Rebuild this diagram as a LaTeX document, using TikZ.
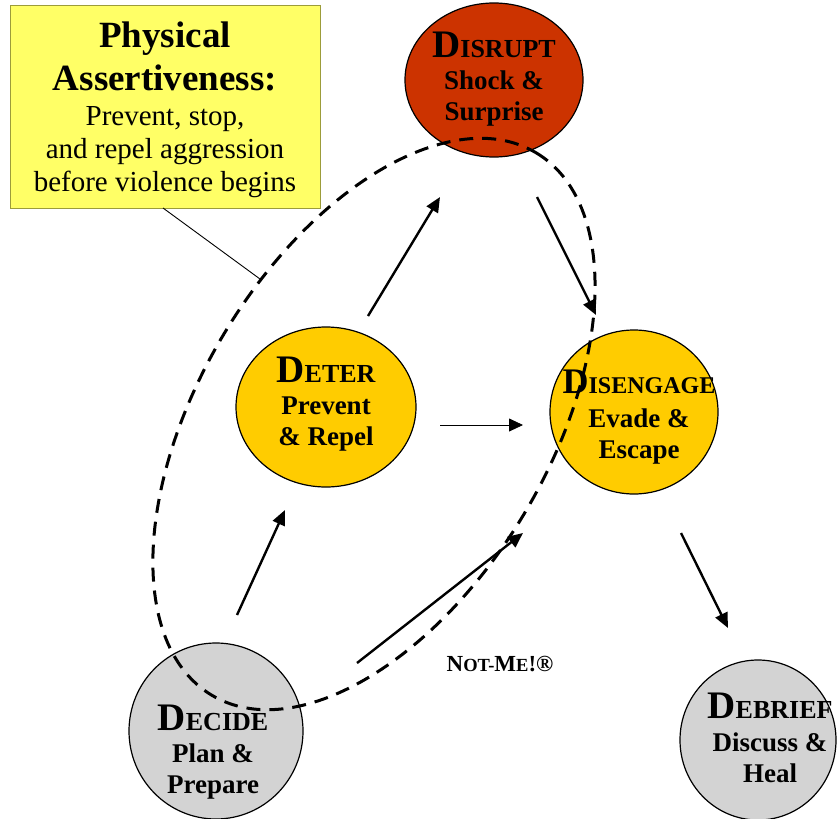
\documentclass[tikz,border=0pt]{standalone}
\usepackage{fontspec}
\setmainfont{Liberation Serif}
\usetikzlibrary{arrows.meta,shapes.geometric}
\definecolor{boxyellow}{HTML}{FFFF66}
\definecolor{boxedge}{HTML}{9C9C3A}
\definecolor{disruptred}{HTML}{CC3300}
\definecolor{goldfill}{HTML}{FFCC00}
\definecolor{grayfill}{HTML}{D3D3D3}
\newcommand{\capword}[2]{{\fontsize{39}{39}\selectfont #1}{\fontsize{26}{26}\selectfont #2}}
\newcommand{\capwordS}[2]{{\fontsize{36}{36}\selectfont #1}{\fontsize{24}{24}\selectfont #2}}
\newcommand{\smallcapsA}[1]{{\fontsize{18.5}{18.5}\selectfont #1}}
\begin{document}
\begin{tikzpicture}[x=1pt,y=-1pt,
  stage/.style={ellipse, draw, line width=1.2pt, inner sep=0pt},
  lbl/.style={font=\bfseries\fontsize{27}{31}\selectfont, align=center, anchor=base, inner sep=0pt},
  flow/.style={line width=2.4pt, -{Triangle[length=15pt,width=13pt]}},
  thinflow/.style={line width=0.8pt, -{Triangle[length=14pt,width=13pt]}},
  ring/.style={line width=3pt, dash pattern=on 14pt off 9pt},
  leader/.style={line width=0.9pt}
]
\useasboundingbox (0,0) rectangle (838,819);

% callout box
\node[draw=boxedge, fill=boxyellow, line width=0.8pt, minimum width=310pt, minimum height=203pt, inner sep=0pt] (box) at (165,106.5) {};
\node[font=\bfseries\fontsize{37}{43}\selectfont, align=center, anchor=base, inner sep=0pt] (boxtitle) at (165,90) {Physical\\Assertiveness:};
\node[font=\fontsize{29}{33}\selectfont, align=center, anchor=base, inner sep=0pt] (boxbody) at (165,191) {Prevent, stop,\\and repel aggression\\before violence begins};

% stages
\node[stage, fill=disruptred, minimum width=178pt, minimum height=154pt] (disrupt) at (494,80) {};
\node[stage, fill=goldfill, minimum width=180pt, minimum height=160pt] (deter) at (326,407) {};
\node[stage, fill=goldfill, minimum width=168pt, minimum height=164pt] (disengage) at (634,412) {};
\node[stage, fill=grayfill, minimum width=174pt, minimum height=176pt] (decide) at (216,731) {};
\node[stage, fill=grayfill, minimum width=156pt, minimum height=160pt] (debrief) at (758,740) {};

\node[lbl] (tdisrupt) at (494,120) {\capword{D}{ISRUPT}\\[1pt]Shock \&\\Surprise};
\node[lbl] (tdeter) at (326,445) {\capword{D}{ETER}\\[1pt]Prevent\\\& Repel};
\node[lbl] (tdisengage) at (639,458) {\capwordS{D}{ISENGAGE}\\[3pt]Evade \&\\Escape};
\node[lbl] (tdecide) at (213,793) {\capword{D}{ECIDE}\\[1pt]Plan \&\\Prepare};
\node[lbl] (tdebrief) at (770,782) {\capword{D}{EBRIEF}\\[2pt]Discuss \&\\Heal};

\node[font=\bfseries\fontsize{23}{23}\selectfont, anchor=base, inner sep=0pt] (notme) at (500,671) {N\smallcapsA{OT-}M\smallcapsA{E}!®};

% dashed ring
\coordinate (ringc) at (374,424);
\draw[ring, rotate around={59.1:(ringc)}] (ringc) ellipse [x radius=316, y radius=175];

% leader line
\coordinate (ringtouch) at (260,279);
\coordinate (boxfoot) at (163,208);
\draw[leader] (boxfoot) -- (ringtouch);

% arrows
\coordinate (a1s) at (368,316); \coordinate (a1e) at (440,197);
\coordinate (a2s) at (537,197); \coordinate (a2e) at (596,315);
\coordinate (a3s) at (440,425); \coordinate (a3e) at (523,425);
\coordinate (a4s) at (237,615); \coordinate (a4e) at (285,510);
\coordinate (a5s) at (357,663); \coordinate (a5e) at (523,533);
\coordinate (a6s) at (681,533); \coordinate (a6e) at (728,628);
\draw[flow] (a1s) -- (a1e);
\draw[flow] (a2s) -- (a2e);
\draw[thinflow] (a3s) -- (a3e);
\draw[flow] (a4s) -- (a4e);
\draw[flow] (a5s) -- (a5e);
\draw[flow] (a6s) -- (a6e);
\end{tikzpicture}
\end{document}
